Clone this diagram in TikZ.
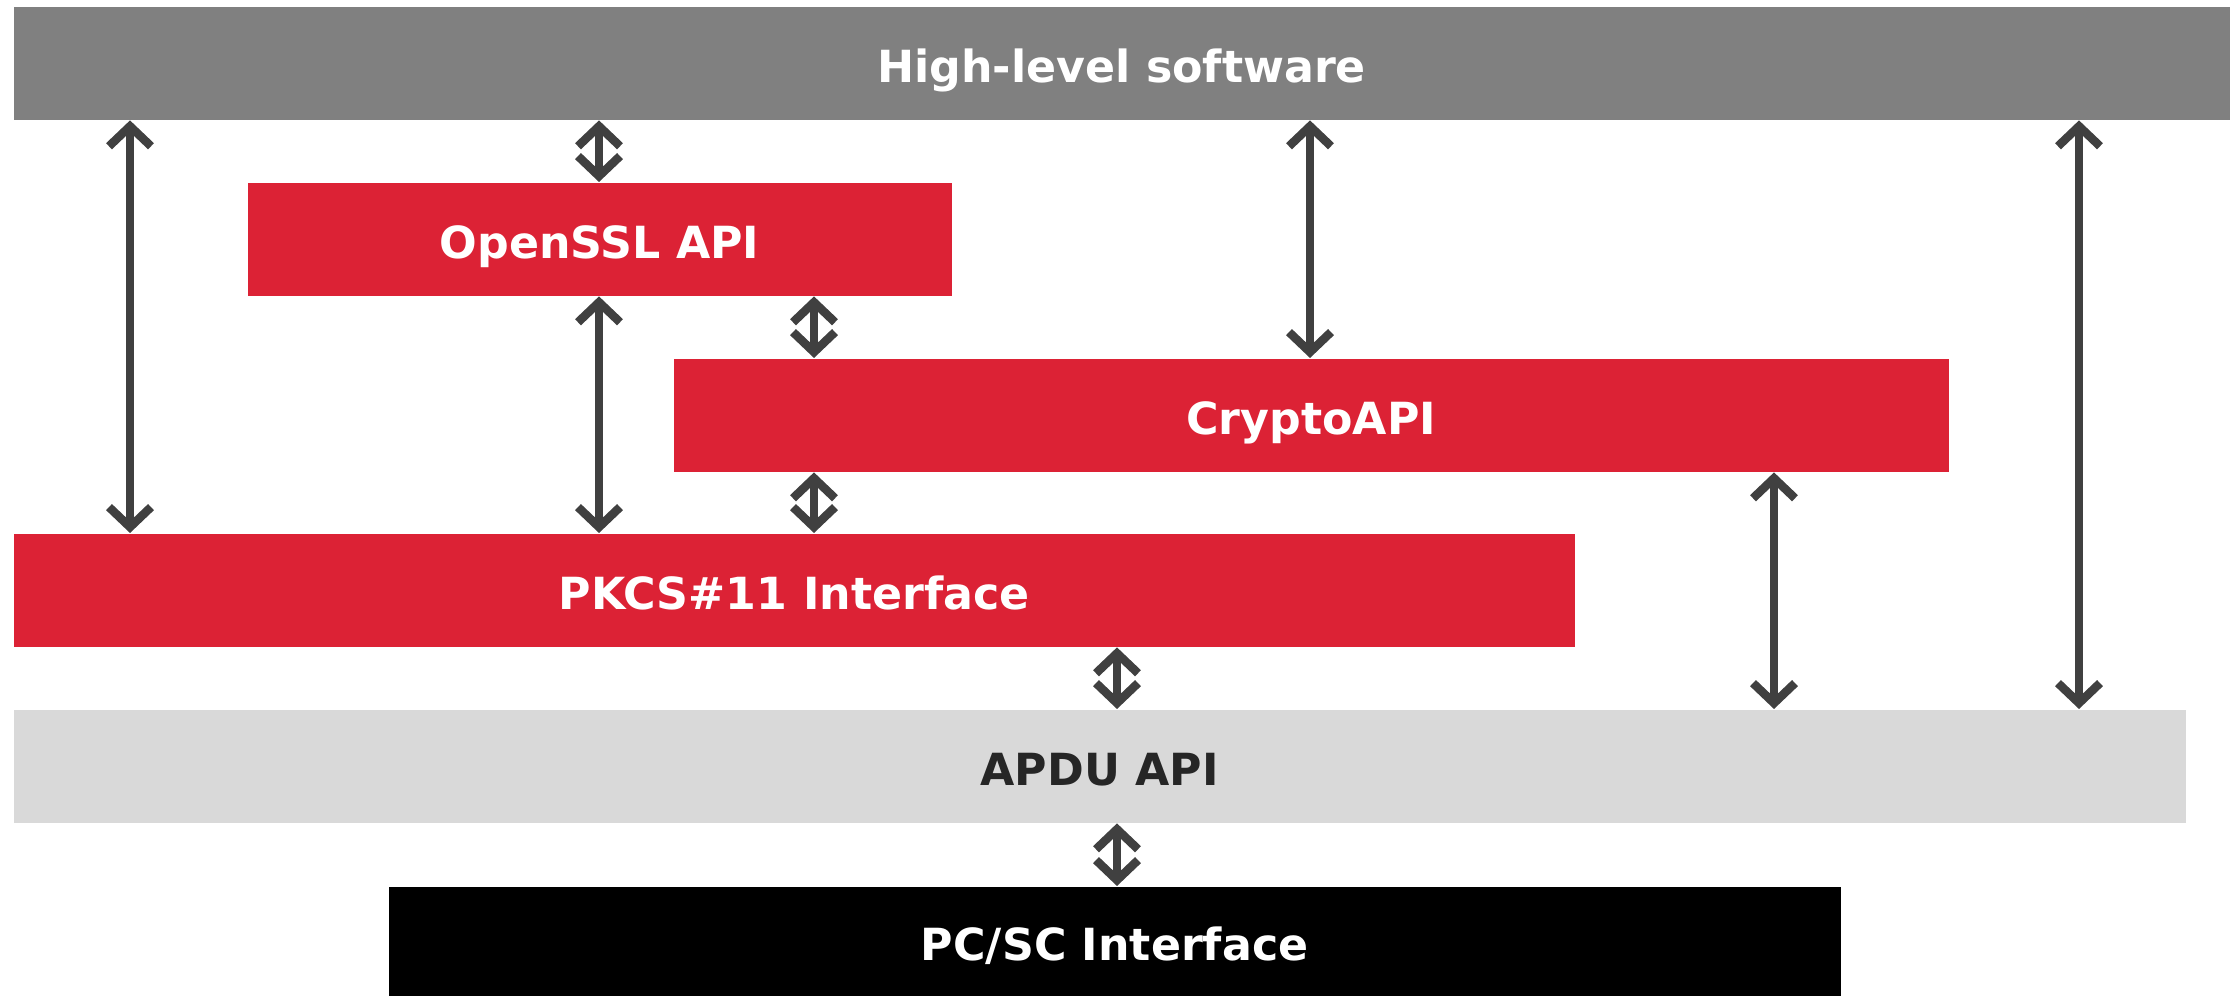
\documentclass[tikz,border=0pt]{standalone}
\usepackage{fontspec}
\setmainfont{DejaVu Sans}
\usepackage{tikz}
\usetikzlibrary{arrows.meta, positioning, calc}
\definecolor{hlgray}{HTML}{808080}
\definecolor{apired}{HTML}{DC2235}
\definecolor{apdugray}{HTML}{D9D9D9}
\definecolor{arrgray}{HTML}{404040}

\begin{document}
\begin{tikzpicture}[
  block/.style={rectangle, anchor=north west, minimum height=1.13cm,
                inner sep=0pt, text=white, text height=0.38cm, text depth=0cm,
                font=\fontsize{12.6}{14}\selectfont\bfseries},
  top/.style={block, fill=hlgray},
  api/.style={block, fill=apired},
  apdu/.style={block, fill=apdugray, text=black!85},
  pcsc/.style={block, fill=black},
  biarr/.style={{Straight Barb[sharp, length=0.2cm, width=0.42cm]}-{Straight Barb[sharp, length=0.2cm, width=0.42cm]},
                line width=0.085cm, arrgray},
]
\useasboundingbox (0,0) rectangle (22.36,9.96);

%% Layers (top = applications, bottom = card reader)
\node[top,  minimum width=22.16cm] (hls)  at (0.13, 9.90) {High-level software};
\node[api,  minimum width=7.04cm]  (ossl) at (2.47, 8.14) {OpenSSL API};
\node[api,  minimum width=12.75cm] (capi) at (6.73, 6.38) {CryptoAPI};
\node[api,  minimum width=15.61cm] (pkcs) at (0.13, 4.63) {PKCS\#11 Interface};
\node[apdu, minimum width=21.72cm] (apdu) at (0.13, 2.87) {APDU API};
\node[pcsc, minimum width=14.52cm, minimum height=1.10cm] (pcsc) at (3.88, 1.10)
  {PC/SC Interface};

%% Links between layers
\draw[biarr] (1.30,0 |- hls.south)  -- (1.30,0 |- pkcs.north);
\draw[biarr] (5.99,0 |- hls.south)  -- (5.99,0 |- ossl.north);
\draw[biarr] (5.99,0 |- ossl.south) -- (5.99,0 |- pkcs.north);
\draw[biarr] (8.14,0 |- ossl.south) -- (8.14,0 |- capi.north);
\draw[biarr] (8.14,0 |- capi.south) -- (8.14,0 |- pkcs.north);
\draw[biarr] (13.10,0 |- hls.south) -- (13.10,0 |- capi.north);
\draw[biarr] (11.17,0 |- pkcs.south) -- (11.17,0 |- apdu.north);
\draw[biarr] (17.74,0 |- capi.south) -- (17.74,0 |- apdu.north);
\draw[biarr] (20.79,0 |- hls.south) -- (20.79,0 |- apdu.north);
\draw[biarr] (11.17,0 |- apdu.south) -- (11.17,0 |- pcsc.north);
\end{tikzpicture}
\end{document}
